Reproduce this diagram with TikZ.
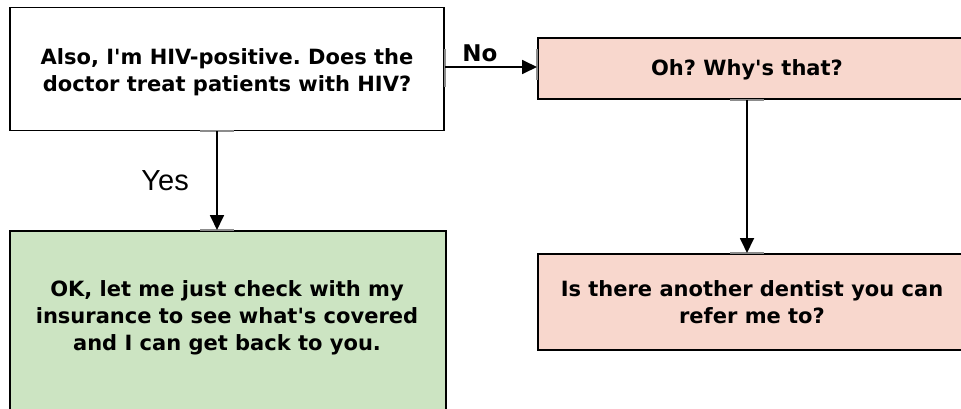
\documentclass[tikz,border=0pt]{standalone}
\usepackage{fontspec}
\setmainfont{DejaVu Sans}
\newfontfamily\yesfont{Liberation Sans}
\usetikzlibrary{arrows.meta,positioning}
\definecolor{pinkbox}{RGB}{248,215,205}
\definecolor{greenbox}{RGB}{204,228,194}
\frenchspacing

\begin{document}
\begin{tikzpicture}[x=1pt, y=-1pt,
	main/.style = {draw, line width=1.8pt, rectangle, inner sep=0pt},
	txt/.style = {align=center, inner sep=0pt, font=\bfseries\fontsize{21}{27}\selectfont},
	tick/.style = {draw=black!45, line width=1.8pt},
	arr/.style = {line width=1.8pt, -{Triangle[length=15pt,width=14pt]}}]
	\useasboundingbox (0,0) rectangle (961,409);
	\clip (0,0) rectangle (961,409);
	\node[main, fill=white, minimum width=434pt, minimum height=123pt] (1) at (227,69) {};
	\node[txt] (1t) at (227,72) {Also, I\textquotesingle m HIV-positive. Does the\\doctor treat patients with HIV?};
	\node[main, fill=pinkbox, minimum width=440pt, minimum height=61pt, anchor=north west] (2) at (537,37) {};
	\node[txt] (2t) at (747,70) {Oh? Why\textquotesingle s that?};
	\node[main, fill=greenbox, minimum width=436pt, minimum height=200pt, anchor=north west] (3) at (9,230) {};
	\node[txt] (3t) at (227,318) {OK, let me just check with my\\insurance to see what\textquotesingle s covered\\and I can get back to you.};
	\node[main, fill=pinkbox, minimum width=440pt, minimum height=96pt, anchor=north west] (4) at (537,253) {};
	\node[txt] (4t) at (752,302) {Is there another dentist you can\\refer me to?};
	% grey marks where the connectors meet the boxes
	\draw[tick] ([xshift=-27pt]1.south) -- ([xshift=7pt]1.south);
	\draw[tick] ([xshift=-27pt]1.south |- 3.north) -- ([xshift=7pt]1.south |- 3.north);
	\draw[tick] ([xshift=-17pt]2t |- 2.south) -- ([xshift=17pt]2t |- 2.south);
	\draw[tick] ([xshift=-17pt]2t |- 4.north) -- ([xshift=17pt]2t |- 4.north);
	\draw[tick] ([yshift=-18pt]1.east) -- ([yshift=20pt]1.east);
	\draw[tick] ([yshift=-11pt]1.east -| 2.west) -- ([yshift=20pt]1.east -| 2.west);
	\draw[arr] ([yshift=2pt]1.east) -- ([yshift=2pt]1.east -| 2.west) node[pos=0.38, above=1pt, font=\bfseries\fontsize{23}{23}\selectfont] {No};
	\draw[arr] ([xshift=-10pt]1.south) -- ([xshift=-10pt]1.south |- 3.north) node[midway, left=24pt, font=\yesfont\fontsize{29}{29}\selectfont] {Yes};
	\draw[arr] (2t |- 2.south) -- (2t |- 4.north);
\end{tikzpicture}
\end{document}
